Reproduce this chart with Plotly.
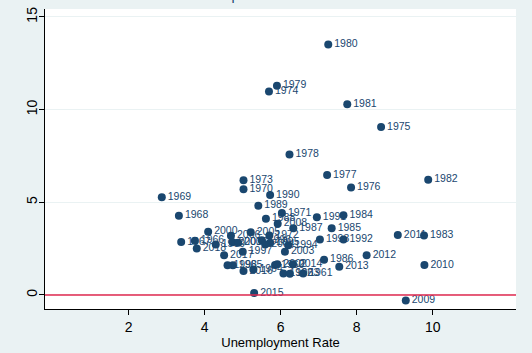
import plotly.graph_objects as go

# Annual observations: unemployment rate (%) and inflation (%), labelled by year
years = list(range(1960, 2019))
unemployment = [
    5.85, 6.59, 6.07, 6.24, 5.28, 4.74, 3.74, 3.38, 3.32, 2.87,   # 1960s
    5.02, 6.03, 5.70, 5.02, 5.69, 8.64, 7.85, 7.22, 6.23, 5.90,   # 1970s
    7.25, 7.75, 9.88, 9.77, 7.65, 7.34, 7.14, 6.33, 5.61, 5.41,   # 1980s
    5.72, 6.95, 7.65, 7.03, 6.20, 5.72, 5.50, 5.00, 4.60, 4.29,   # 1990s
    4.09, 4.73, 5.91, 6.11, 5.59, 5.21, 4.69, 4.88, 5.92, 9.29,   # 2000s
    9.78, 9.08, 8.26, 7.54, 6.32, 5.30, 5.02, 4.51, 3.79,         # 2010s
]
inflation = [
    1.62, 1.16, 1.16, 1.15, 1.37, 1.61, 2.93, 2.86, 4.27, 5.27,
    5.70, 4.43, 3.21, 6.19, 10.98, 9.07, 5.80, 6.48, 7.58, 11.29,
    13.52, 10.29, 6.22, 3.21, 4.30, 3.60, 1.90, 3.60, 4.11, 4.81,
    5.39, 4.20, 3.00, 3.00, 2.68, 2.82, 2.96, 2.33, 1.61, 2.73,
    3.41, 2.85, 1.66, 2.33, 2.72, 3.38, 3.19, 2.82, 3.84, -0.30,
    1.62, 3.23, 2.14, 1.52, 1.66, 0.11, 1.30, 2.15, 2.51,
]
x_ticks = [2, 4, 6, 8, 10]
y_ticks = [5, 10, 15]
y_tick_zero = 0
title_text = "Phillips Curve Scatter 1960-2018"

navy = "#1a476f"
bg = "#eaf2f3"

fig = go.Figure()

# zero-inflation reference line across the full plot width
fig.add_shape(
    type="line", xref="paper", x0=0, x1=1, yref="y", y0=y_tick_zero, y1=y_tick_zero,
    line=dict(color="#e0284f", width=1.6), layer="above",
)

fig.add_trace(go.Scatter(
    x=unemployment, y=inflation, text=[str(y) for y in years],
    mode="markers+text", textposition="middle right",
    marker=dict(color=navy, size=8, line=dict(width=0)),
    textfont=dict(family="Liberation Sans, Arial, sans-serif", size=10.5, color=navy),
    cliponaxis=False, showlegend=False,
))

fig.add_annotation(
    text=title_text, xref="paper", yref="paper", x=0.552, y=1.012,
    xanchor="center", yanchor="bottom", showarrow=False,
    font=dict(family="Liberation Sans, Arial, sans-serif", size=14, color=navy),
)

fig.update_layout(
    width=532, height=353,
    margin=dict(l=45, r=16, t=7, b=40),
    paper_bgcolor=bg, plot_bgcolor="white",
    font=dict(family="Liberation Sans, Arial, sans-serif", color="black"),
    xaxis=dict(
        range=[-0.203, 12.19], tickvals=x_ticks, ticks="outside", ticklen=5,
        tickcolor="black", showgrid=False, zeroline=False,
        showline=True, linecolor="black", linewidth=1,
        tickfont=dict(size=14),
        title=dict(text="Unemployment Rate", font=dict(size=13), standoff=2),
    ),
    yaxis=dict(
        range=[-0.756, 15.43], tickvals=[y_tick_zero] + y_ticks,
        ticks="outside", ticklen=5,
        tickcolor="black", showgrid=True, gridcolor=bg, gridwidth=1,
        zeroline=False, showline=True, linecolor="black", linewidth=1,
        tickangle=-90, tickfont=dict(size=14), ticklabelstandoff=-4,
    ),
)

fig.write_html("out.html")
